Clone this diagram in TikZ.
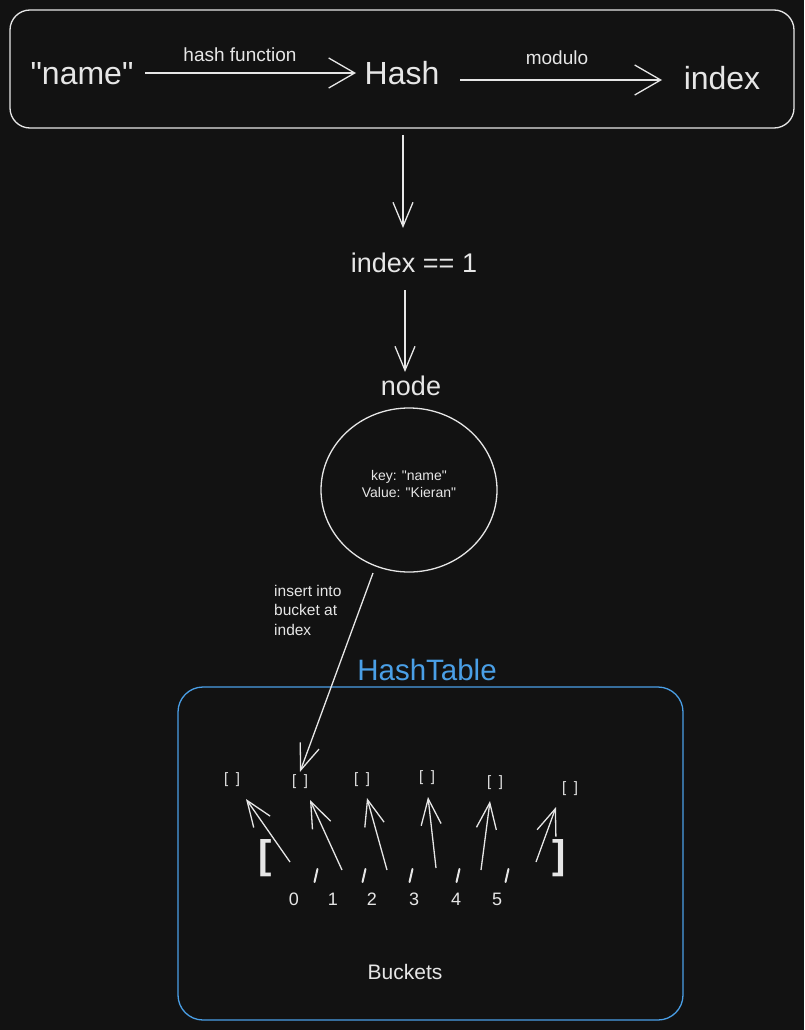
\documentclass[tikz,border=0pt]{standalone}
\usepackage{fontspec}
\setmainfont{Liberation Sans}[Ligatures=TeXOff]
\usetikzlibrary{arrows.meta}
\definecolor{bg}{HTML}{121212}
\definecolor{ink}{HTML}{E6E6E6}
\definecolor{hblue}{HTML}{4A9FE6}
\tikzset{
  ar/.style={draw=ink, line width=1.3pt, -{Straight Barb[length=24pt,width=20pt,line width=1.3pt]}},
  arh/.style={draw=ink, line width=1.3pt, -{Straight Barb[length=26pt,width=30pt,line width=1.3pt]}},
  arb/.style={draw=ink, line width=1.3pt, -{Straight Barb[length=26pt,width=20pt,line width=1.3pt]}},
  txt/.style={text=ink, inner sep=0pt},
  bigtxt/.style={txt, font=\fontsize{32}{36}\selectfont},
  midtxt/.style={txt, font=\fontsize{27}{29}\selectfont},
  lbltxt/.style={txt, font=\fontsize{19}{20}\selectfont},
  smltxt/.style={txt, font=\fontsize{14}{17}\selectfont},
  bkttxt/.style={txt, font=\fontsize{15}{17}\selectfont},
  digtxt/.style={txt, font=\fontsize{18}{20}\selectfont},
  commastroke/.style={draw=ink, line width=2pt, line cap=round}
}
\begin{document}
\begin{tikzpicture}[x=1pt,y=-1pt]
\fill[bg] (0,0) rectangle (804,1030);
\useasboundingbox (0,0) rectangle (804,1030);
% top box
\draw[ink, line width=1.3pt, rounded corners=20pt] (10,10) rectangle (794,128);
\node[bigtxt] (name) at (82,74) {"name"};
\node[bigtxt] (hash) at (402,73) {Hash};
\node[bigtxt] (index) at (722,78) {index};
\coordinate (a1) at (145,73);
\coordinate (a1e) at (356,73);
\draw[arh] (a1) -- (a1e);
\node[lbltxt] (hf) at (240,55) {hash function};
\coordinate (m1) at (460,80);
\coordinate (m2) at (662,80);
\draw[arh] (m1) -- (m2);
\node[lbltxt] (mod) at (557,58) {modulo};
% down arrows
\coordinate (d1) at (403,135);
\coordinate (d1e) at (403,228);
\node[midtxt] (idx1) at (414,263) {index == 1};
\draw[ar] (d1) -- (d1e);
\coordinate (d2) at (405,290);
\coordinate (d2e) at (405,372);
\draw[ar] (d2) -- (d2e);
\node[midtxt] (nodelbl) at (411,386) {node};
% circle
\draw[ink, line width=1.3pt] (409,490) ellipse [x radius=88, y radius=82];
\node[smltxt, align=center] (kv) at (409,484) {key: "name"\\Value: "Kieran"};
% insert arrow
\coordinate (ins) at (373,573);
\node[smltxt, anchor=north west, align=left, font=\fontsize{15.5}{19.5}\selectfont] (inslbl) at (274,585) {insert into\\bucket at\\index};
% HashTable
\node[txt, text=hblue, font=\fontsize{29.5}{32}\selectfont] (ht) at (427,670) {HashTable};
\draw[hblue, line width=1.3pt, rounded corners=25pt] (178,687) rectangle (683,1020);
% buckets
\node[bkttxt] (b0) at (232,780) {[\enspace]};
\node[bkttxt] (b1) at (300,782) {[\enspace]};
\node[bkttxt] (b2) at (362,780) {[\enspace]};
\node[bkttxt] (b3) at (427,778) {[\enspace]};
\node[bkttxt] (b4) at (495,783) {[\enspace]};
\node[bkttxt] (b5) at (570,789) {[\enspace]};
\draw[arb] (ins) -- ([yshift=3pt]b1.north);
% big brackets
\node[txt, font=\fontsize{40}{44}\bfseries\selectfont] (lb) at (265,858) {[};
\node[txt, font=\fontsize{40}{44}\bfseries\selectfont] (rb) at (559,858) {]};
% commas
\foreach \x in {316,364,411,458,507}{
  \draw[commastroke] (\x-1.5,882) -- (\x+1.5,869);
}
% digits
\node[digtxt] (n0) at (294,899) {0};
\node[digtxt] (n1) at (333,899) {1};
\node[digtxt] (n2) at (372,899) {2};
\node[digtxt] (n3) at (414,899) {3};
\node[digtxt] (n4) at (456,899) {4};
\node[digtxt] (n5) at (497,899) {5};
% bucket arrows
\coordinate (t0) at (290,862); \draw[arb] (t0) -- (246,799);
\coordinate (t1) at (342,870); \draw[arb] (t1) -- (310,800);
\coordinate (t2) at (387,870); \draw[arb] (t2) -- (367,798);
\coordinate (t3) at (436,868); \draw[arb] (t3) -- (428,797);
\coordinate (t4) at (481,870); \draw[arb] (t4) -- (490,801);
\coordinate (t5) at (536,862); \draw[arb] (t5) -- (556,807);
\node[txt, font=\fontsize{21}{23}\selectfont] (bk) at (405,972) {Buckets};
\end{tikzpicture}
\end{document}
